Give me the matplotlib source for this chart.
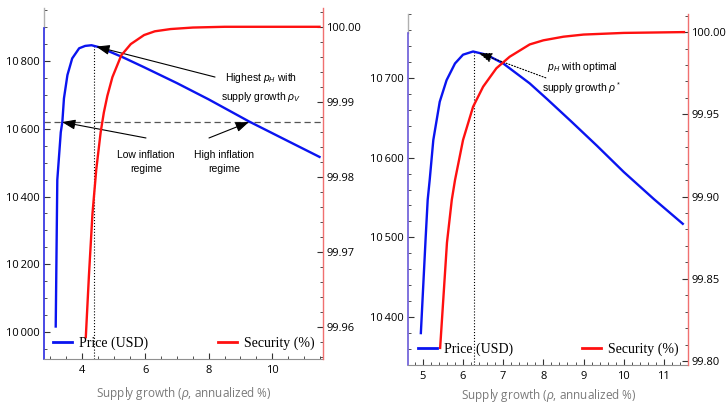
import matplotlib
matplotlib.use("Agg")
import matplotlib.pyplot as plt
from matplotlib.ticker import MultipleLocator, FuncFormatter
from matplotlib.lines import Line2D

plt.rcParams['font.family'] = ['Open Sans', 'DejaVu Sans']
plt.rcParams['mathtext.fontset'] = 'custom'
plt.rcParams['mathtext.it'] = 'Liberation Sans:italic'
plt.rcParams['mathtext.rm'] = 'Liberation Sans'

# ---------------- data ----------------
# Left panel
L_price_x = [3.17, 3.22, 3.33, 3.38, 3.43, 3.54, 3.69, 3.91, 4.10, 4.30, 4.55, 4.75, 5.30, 5.96, 7.0, 8.0, 9.27, 10.5, 11.5]
L_price_y = [10016, 10449, 10590, 10621, 10690, 10759, 10808, 10838, 10845, 10847, 10841, 10833, 10811, 10782, 10735, 10687, 10622, 10564, 10517]
L_sec_x = [4.12, 4.22, 4.33, 4.45, 4.59, 4.69, 4.80, 4.96, 5.24, 5.54, 5.96, 6.3, 6.8, 7.5, 8.5, 9.5, 11.5]
L_sec_y = [99.9587, 99.9670, 99.9751, 99.9810, 99.9860, 99.9886, 99.9908, 99.9933, 99.9962, 99.9977, 99.9989,
           99.9994, 99.9997, 99.9999, 100.0, 100.0, 100.0]
L_rho_v = 4.38
L_peak = 10847
L_threshold = 10620

# Right panel
R_price_x = [4.95, 5.07, 5.12, 5.17, 5.26, 5.42, 5.59, 5.80, 6.00, 6.25, 6.58, 7.00, 7.66, 8.10, 8.70, 9.33, 10.0, 10.75, 11.47]
R_price_y = [10380, 10500, 10547, 10572, 10622, 10670, 10697, 10718, 10729, 10733, 10729, 10718, 10693, 10673, 10645, 10615, 10582, 10548, 10517]
R_sec_x = [5.43, 5.60, 5.72, 5.80, 6.00, 6.25, 6.50, 6.83, 7.16, 7.66, 8.0, 8.5, 9.0, 10.0, 11.5]
R_sec_y = [99.808, 99.872, 99.898, 99.910, 99.9344, 99.9546, 99.9668, 99.978, 99.985, 99.9925, 99.9950, 99.9972,
           99.9985, 99.9995, 100.0]
R_rho_star = 6.28
R_peak = 10733

xlabel = "Supply growth ($\\rho$, annualized %)"

BLUE = '#0a14f0'
RED = '#ff1010'

fig = plt.figure(figsize=(7.28, 4.05), dpi=100)
W, H = 728, 405


def pax(x0, y0, x1, y1):
    return [x0 / W, 1 - y1 / H, (x1 - x0) / W, (y1 - y0) / H]


def thousands(v, pos):
    v = int(round(v))
    return f"{v // 1000}\u2009{v % 1000:03d}"


def style(ax, ax2, spine_top_val, lcol):
    for s in ['top', 'right']:
        ax.spines[s].set_visible(False)
    for s in ['top', 'left', 'bottom']:
        ax2.spines[s].set_visible(False)
    ax.spines['left'].set_color(lcol)
    ax.spines['left'].set_linewidth(1.2)
    ylo = ax.get_ylim()[0]
    ax.spines['left'].set_bounds(ylo, spine_top_val)
    ax.plot([0, 0], [spine_top_val, ax.get_ylim()[1]], transform=ax.get_yaxis_transform(),
            color='#b0b0b0', lw=1.0, clip_on=False)
    ax.spines['bottom'].set_color('#909090')
    ax2.spines['right'].set_color('#f07070')
    ax2.spines['right'].set_linewidth(1.0)
    for a in (ax, ax2):
        a.tick_params(which='both', direction='in', colors='#333333', labelsize=8, labelcolor='black')
        a.tick_params(which='major', length=4, width=0.8)
        a.tick_params(which='minor', length=2, width=0.6)
    ax.tick_params(axis='y', pad=3)
    ax2.tick_params(axis='y', pad=2.5)
    ax.tick_params(axis='x', pad=4)
    ax.yaxis.set_major_formatter(FuncFormatter(thousands))


def legends(ax2, x1, x2, y):
    h1 = [Line2D([], [], color=BLUE, lw=2)]
    h2 = [Line2D([], [], color=RED, lw=2)]
    kw = dict(frameon=False, borderpad=0, borderaxespad=0, handlelength=1.4, handletextpad=0.5,
              prop={'family': 'Liberation Serif', 'size': 10})
    lg1 = ax2.legend(h1, ['Price (USD)'], loc='center left', bbox_to_anchor=(x1, y), **kw)
    ax2.add_artist(lg1)
    ax2.legend(h2, ['Security (%)'], loc='center right', bbox_to_anchor=(x2, y), **kw)


lk = dict(lw=1.7, zorder=3, solid_joinstyle='round')

# ---------------- left panel ----------------
axL = fig.add_axes(pax(44, 8, 323, 359))
axL2 = axL.twinx()
axL.set_xlim(2.8, 11.61)
axL.set_ylim(9920, 10957)
axL2.set_ylim(99.9558, 100.0025)
axL.plot(L_price_x, L_price_y, color=BLUE, **lk)
axL2.plot(L_sec_x, L_sec_y, color=RED, **lk)
axL.axhline(L_threshold, color='#555555', lw=0.9, ls=(0, (5, 3)))
axL.plot([L_rho_v, L_rho_v], [9920, L_peak], color='black', lw=0.8, ls=':')
axL.xaxis.set_major_locator(MultipleLocator(2))
axL.xaxis.set_minor_locator(MultipleLocator(0.5))
axL.yaxis.set_major_locator(MultipleLocator(200))
axL.yaxis.set_minor_locator(MultipleLocator(50))
axL2.yaxis.set_major_locator(MultipleLocator(0.01))
axL2.yaxis.set_minor_locator(MultipleLocator(0.002))
axL2.yaxis.set_major_formatter(FuncFormatter(lambda v, p: f"{v:.2f}"))
style(axL, axL2, 10897, '#2a2ae0')

ap = dict(arrowstyle='-|>,head_length=0.8,head_width=0.3', color='black', lw=0.8, shrinkA=0, shrinkB=0)
tk = dict(fontsize=7.5, family='Liberation Sans', ha='center', va='center', linespacing=1.5)
axL.annotate('', xy=(4.45, 10843), xytext=(8.2, 10753), arrowprops=ap)
axL.text(9.65, 10723, 'Highest $p_H$ with\nsupply growth $\\rho_V$', **tk)
axL.annotate('', xy=(3.37, 10620), xytext=(6.02, 10573), arrowprops=ap)
axL.text(6.02, 10502, 'Low inflation\nregime', **tk)
axL.annotate('', xy=(9.27, 10620), xytext=(8.01, 10573), arrowprops=ap)
axL.text(8.48, 10502, 'High inflation\nregime', **tk)
legends(axL2, 9 / 279, 271 / 279, 16 / 351)

# ---------------- right panel ----------------
axR = fig.add_axes(pax(408, 14, 688, 365))
axR2 = axR.twinx()
axR.set_xlim(4.63, 11.6)
axR.set_ylim(10340, 10780)
axR2.set_ylim(99.7976, 100.011)
axR.plot(R_price_x, R_price_y, color=BLUE, **lk)
axR2.plot(R_sec_x, R_sec_y, color=RED, **lk)
axR.plot([R_rho_star, R_rho_star], [10340, R_peak], color='black', lw=0.8, ls=':')
axR.xaxis.set_major_locator(MultipleLocator(1))
axR.xaxis.set_minor_locator(MultipleLocator(0.2))
axR.yaxis.set_major_locator(MultipleLocator(100))
axR.yaxis.set_minor_locator(MultipleLocator(20))
axR2.yaxis.set_major_locator(MultipleLocator(0.05))
axR2.yaxis.set_minor_locator(MultipleLocator(0.01))
axR2.yaxis.set_major_formatter(FuncFormatter(lambda v, p: f"{v:.2f}"))
style(axR, axR2, 10756, '#6a5ad8')

apd = dict(arrowstyle='-|>,head_length=0.8,head_width=0.3', color='black', lw=0.8, ls=':',
           shrinkA=0, shrinkB=0)
axR.annotate('', xy=(6.39, 10731), xytext=(8.06, 10700), arrowprops=apd)
axR.text(8.96, 10700, '$p_H$ with optimal\nsupply growth $\\rho^*$', **tk)
legends(axR2, 10 / 280, 271 / 280, 16 / 351)

# x labels
fig.text(184 / W, 1 - 393 / H, xlabel, ha='center', va='center', fontsize=8.5, color='#7a7a7a')
fig.text(549 / W, 1 - 396 / H, xlabel, ha='center', va='center', fontsize=8.5, color='#7a7a7a')

fig.savefig('out.png', dpi=100)
